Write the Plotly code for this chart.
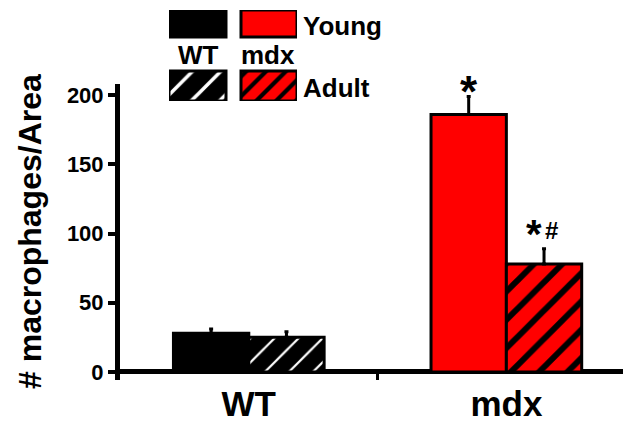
import plotly.graph_objects as go

# ---- data ----
categories = ["WT", "mdx"]
young_vals = [28, 186]
young_err = [3, 13]
adult_vals = [25, 78]
adult_err = [4, 11]
sig_young = ["", "*"]
sig_adult_star = ["", "*"]
sig_adult_hash = ["", "#"]
y_ticks = [0, 50, 100, 150, 200]
y_title = "# macrophages/Area"
legend_groups = ["WT", "mdx"]
legend_ages = ["Young", "Adult"]

W, H = 631, 423
OX, OY = 8, 8  # page body margin offset
FONT = "Liberation Sans"
RED = "#ff0000"


def px(x):
    return (x - OX) / W


def py(y):
    return 1 - (y - OY) / H


fig = go.Figure()

line = dict(color="black", width=3)
# Young bars (solid)
fig.add_trace(go.Bar(
    x=categories, y=young_vals, name="Young", offsetgroup="young",
    marker=dict(color=["black", RED], line=line),
    error_y=dict(type="data", array=young_err, arrayminus=[0, 0], symmetric=False,
                 color="black", thickness=3, width=2),
))
# Adult bars (hatched), one trace per genotype to set hatch colours
fig.add_trace(go.Bar(
    x=categories[:1], y=adult_vals[:1], name="Adult WT", offsetgroup="adult",
    marker=dict(color="black", line=line,
                pattern=dict(shape="/", fgcolor="white", fgopacity=1, size=17, solidity=0.13,
                             fillmode="overlay")),
    error_y=dict(type="data", array=adult_err[:1], arrayminus=[0], symmetric=False,
                 color="black", thickness=3, width=2),
))
fig.add_trace(go.Bar(
    x=categories[1:], y=adult_vals[1:], name="Adult mdx", offsetgroup="adult",
    marker=dict(color=RED, line=line,
                pattern=dict(shape="/", fgcolor="black", fgopacity=1, size=20, solidity=0.3,
                             fillmode="overlay")),
    error_y=dict(type="data", array=adult_err[1:], arrayminus=[0], symmetric=False,
                 color="black", thickness=3, width=2),
))

# legend swatches drawn as bars on a hidden mini subplot
leg_specs = [
    # x, base, height, width, color, pattern fg, size, solidity, shape
    (28.5, 64, 27, 57, "black", "white", 20, 0.2, ""),
    (100, 64, 27, 56, RED, "black", 20, 0.2, ""),
    (28.5, 0, 30, 57, "black", "white", 20, 0.18, "/"),
    (100, 0, 30, 56, RED, "black", 14, 0.3, "/"),
]
for (lx, lb, lh, lw, lc, fg, sz, so, sh) in leg_specs:
    fig.add_trace(go.Bar(
        x=[lx], y=[lh], base=[lb], width=[lw], offset=[-lw / 2],
        marker=dict(color=lc, line=dict(color="black", width=3),
                    pattern=dict(shape=sh, fgcolor=fg, fgopacity=1, size=sz, solidity=so,
                                 fillmode="overlay")),
        xaxis="x2", yaxis="y2", hoverinfo="skip",
    ))

off = (1 - 0.415) / 4
for i, c in enumerate(categories):
    if sig_young[i]:
        fig.add_annotation(x=i - off, y=young_vals[i] + young_err[i], text="<b>" + sig_young[i] + "</b>",
                           showarrow=False, xanchor="center", yanchor="middle",
                           font=dict(size=44, family=FONT, color="black"),
                           xref="x", yref="y", yshift=15 - 0.233 * 44)
    if sig_adult_star[i]:
        fig.add_annotation(x=i + off, y=adult_vals[i] + adult_err[i], text="<b>" + sig_adult_star[i] + "</b>",
                           showarrow=False, xanchor="center", yanchor="middle",
                           font=dict(size=40, family=FONT, color="black"),
                           xref="x", yref="y", xshift=-10, yshift=24 - 0.233 * 40)
    if sig_adult_hash[i]:
        fig.add_annotation(x=i + off, y=adult_vals[i] + adult_err[i], text="<b>" + sig_adult_hash[i] + "</b>",
                           showarrow=False, xanchor="center", yanchor="middle",
                           font=dict(size=24, family=FONT, color="black"),
                           xref="x", yref="y", xshift=7, yshift=18)

# y title
fig.add_annotation(x=px(30), y=py(232), xref="paper", yref="paper", text="<b>" + y_title + "</b>",
                   textangle=-90, showarrow=False, xanchor="center", yanchor="middle",
                   font=dict(size=32, family=FONT, color="black"))

# legend labels
fig.add_annotation(x=px(198), y=py(55), xref="paper", yref="paper", text="<b>" + legend_groups[0] + "</b>",
                   showarrow=False, xanchor="center", yanchor="middle",
                   font=dict(size=26, family=FONT, color="black"))
fig.add_annotation(x=px(239), y=py(55), xref="paper", yref="paper", text="<b>" + legend_groups[1] + "</b>",
                   xanchor="left", yanchor="middle", showarrow=False,
                   font=dict(size=26, family=FONT, color="black"))
fig.add_annotation(x=px(301), y=py(26), xref="paper", yref="paper", text="<b>" + legend_ages[0] + "</b>",
                   xanchor="left", yanchor="middle", showarrow=False,
                   font=dict(size=26, family=FONT, color="black"))
fig.add_annotation(x=px(301), y=py(88), xref="paper", yref="paper", text="<b>" + legend_ages[1] + "</b>",
                   xanchor="left", yanchor="middle", showarrow=False,
                   font=dict(size=26, family=FONT, color="black"))

fig.update_layout(
    width=W, height=H, margin=dict(l=0, r=0, t=0, b=0),
    paper_bgcolor="white", plot_bgcolor="rgba(0,0,0,0)",
    barmode="group", bargap=0.415, bargroupgap=0, showlegend=False,
    xaxis=dict(type="category", categoryorder="array", categoryarray=categories,
               domain=[px(120), px(630)], range=[-0.5, 1.48], anchor="y",
               tickson="boundaries", ticks="inside", ticklen=8, tickwidth=3, tickcolor="black",
               showline=False, showgrid=False, zeroline=False, automargin=False,
               tickfont=dict(size=35, family=FONT, color="black", weight="bold")),
    yaxis=dict(domain=[py(380), py(84)], range=[-5.8, 208], anchor="x",
               tickvals=y_ticks, ticks="outside", ticklen=7, tickwidth=4, tickcolor="black",
               showline=True, linewidth=5, linecolor="black",
               zeroline=True, zerolinewidth=5, zerolinecolor="black",
               showgrid=False, automargin=False,
               tickfont=dict(size=22, family=FONT, color="black", weight="bold")),
    xaxis2=dict(domain=[px(169), px(297)], range=[0, 128], visible=False, anchor="y2", fixedrange=True),
    yaxis2=dict(domain=[py(101), py(10)], range=[0, 91], visible=False, anchor="x2", fixedrange=True),
)

fig.write_html("out.html")
